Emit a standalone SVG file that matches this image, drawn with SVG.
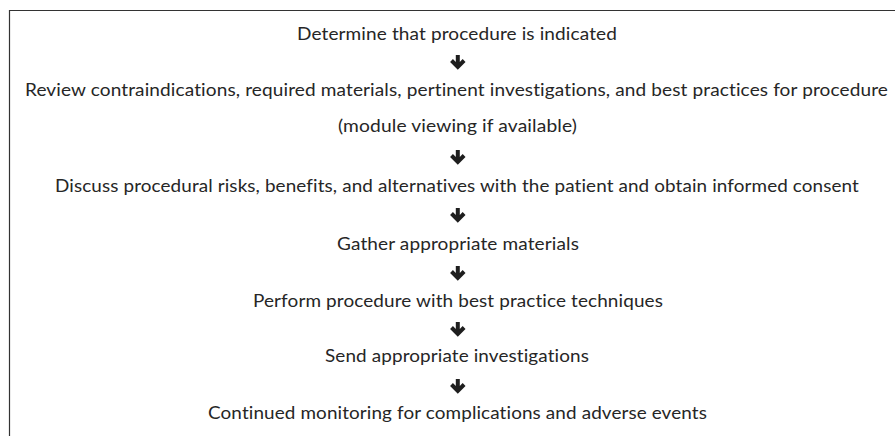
<svg xmlns="http://www.w3.org/2000/svg" width="895" height="436" viewBox="0 0 895 436">
  <style>
    .t { font-family: Lato, "Liberation Sans", sans-serif; font-size: 16.5px; fill: #262626; text-anchor: middle; font-variant-ligatures: none; font-feature-settings: "liga" 0, "dlig" 0, "clig" 0; letter-spacing: 0.1px; }
    .arr { fill: none; stroke: #1e1e1e; stroke-width: 4; stroke-linejoin: miter; stroke-linecap: butt; }
    .frame { fill: none; stroke: #333333; stroke-width: 1.2; }
  </style>
  <defs>
    <g id="downArrow">
      <path class="arr" d="M0,0 V11.5 M-6.3,5.5 L0,11.8 L6.3,5.5"/>
    </g>
  </defs>
  <rect width="895" height="436" fill="#ffffff"/>
  <path class="frame" d="M9.5,436 V10.5 H895"/>

  <g id="node1"><text class="t" x="457" y="40" textLength="320" lengthAdjust="spacingAndGlyphs">Determine that procedure is indicated</text></g>
  <g id="node2">
    <text class="t" x="456.5" y="96" textLength="863" lengthAdjust="spacingAndGlyphs">Review contraindications, required materials, pertinent investigations, and best practices for procedure</text>
    <text class="t" x="457.5" y="132" textLength="239" lengthAdjust="spacingAndGlyphs">(module viewing if available)</text>
  </g>
  <g id="node3"><text class="t" x="457" y="192" textLength="804" lengthAdjust="spacingAndGlyphs">Discuss procedural risks, benefits, and alternatives with the patient and obtain informed consent</text></g>
  <g id="node4"><text class="t" x="458" y="250" textLength="242" lengthAdjust="spacingAndGlyphs">Gather appropriate materials</text></g>
  <g id="node5"><text class="t" x="458" y="307" textLength="410" lengthAdjust="spacingAndGlyphs">Perform procedure with best practice techniques</text></g>
  <g id="node6"><text class="t" x="457" y="362" textLength="264" lengthAdjust="spacingAndGlyphs">Send appropriate investigations</text></g>
  <g id="node7"><text class="t" x="457.5" y="419" textLength="499" lengthAdjust="spacingAndGlyphs">Continued monitoring for complications and adverse events</text></g>

  <g id="connectors">
    <use href="#downArrow" x="457.8" y="55"/>
    <use href="#downArrow" x="457.8" y="150"/>
    <use href="#downArrow" x="457.8" y="208"/>
    <use href="#downArrow" x="457.8" y="266"/>
    <use href="#downArrow" x="457.8" y="322"/>
    <use href="#downArrow" x="457.8" y="379"/>
  </g>
</svg>
